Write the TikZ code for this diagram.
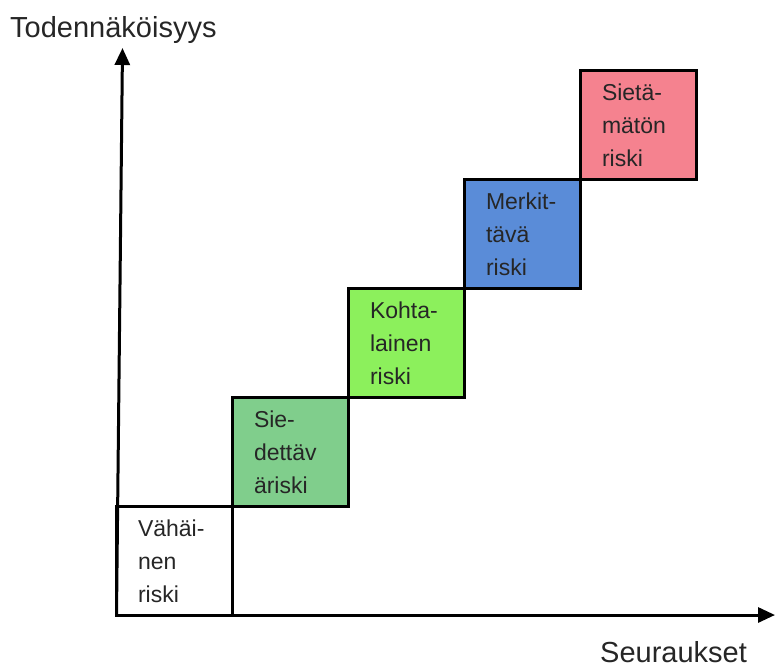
\documentclass[tikz,border=0pt]{standalone}
\usepackage{fontspec}
\setmainfont{Liberation Sans}
\usetikzlibrary{arrows.meta}
\definecolor{txt}{HTML}{262626}
\definecolor{cwhite}{HTML}{FFFFFF}
\definecolor{cgreen}{HTML}{80CE8C}
\definecolor{clime}{HTML}{8CF05C}
\definecolor{cblue}{HTML}{5A8CD8}
\definecolor{cpink}{HTML}{F5828F}
\tikzset{
  riskbox/.style={draw=black, line width=3pt, minimum width=116pt, minimum height=109pt,
    text width=72pt, inner xsep=22pt, inner ysep=0pt, align=left, text=txt,
    font=\fontsize{23}{33}\selectfont},
  axis/.style={draw=black, line width=3pt, -{Triangle[length=17pt,width=15pt]}},
  axlabel/.style={font=\fontsize{29}{34}\selectfont, text=txt, inner sep=0pt}
}
\begin{document}
\begin{tikzpicture}[x=1pt,y=-1pt]
\useasboundingbox (0,0) rectangle (775,670);
\node[riskbox, fill=cwhite] (b1) at (174,561) {Vähäi-\\nen\\riski};
\node[riskbox, fill=cgreen] (b2) at (290,452) {Sie-\\dettäv\\äriski};
\node[riskbox, fill=clime]  (b3) at (406,343) {Kohta-\\lainen\\riski};
\node[riskbox, fill=cblue]  (b4) at (522,234) {Merkit-\\tävä\\riski};
\node[riskbox, fill=cpink]  (b5) at (638,125) {Sietä-\\mätön\\riski};
\coordinate (o) at (116.5,615);
\coordinate (ytop) at (122.5,48);
\coordinate (xend) at (775,615);
\draw[axis] (o) -- (ytop);
\draw[axis] ([xshift=-1.5pt]o) -- (xend);
\node[axlabel, anchor=base west] (ylab) at (10,37) {Todennäköisyys};
\node[axlabel, anchor=base west] (xlab) at (600,662) {Seuraukset};
\end{tikzpicture}
\end{document}
